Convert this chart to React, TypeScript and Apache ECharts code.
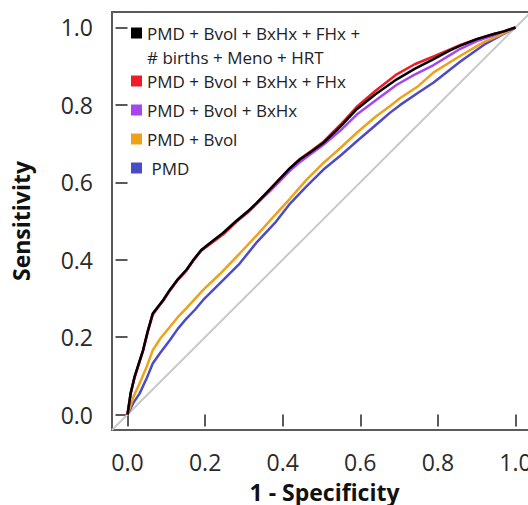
import React, { useEffect, useRef } from "react";
import * as echarts from "echarts";

const NAME_ALL = "PMD + Bvol + BxHx + FHx +\n# births + Meno + HRT";
const NAME_FHX = "PMD + Bvol + BxHx + FHx";
const NAME_BXHX = "PMD + Bvol + BxHx";
const NAME_BVOL = "PMD + Bvol";
const NAME_PMD = " PMD";

const TICKS = [0, 0.2, 0.4, 0.6, 0.8, 1.0];

// full model (black), red & purple share the same FPR grid
const FPR_TOP = [0, 0.008, 0.018, 0.03, 0.04, 0.052, 0.065, 0.078, 0.092, 0.109, 0.13, 0.152, 0.17, 0.19, 0.215, 0.246, 0.28, 0.31, 0.333, 0.37, 0.419, 0.444, 0.475, 0.505, 0.55, 0.591, 0.64, 0.694, 0.74, 0.789, 0.83, 0.858, 0.9, 0.944, 0.97, 1.0];
const TPR_ALL = [0, 0.055, 0.097, 0.135, 0.166, 0.215, 0.261, 0.278, 0.296, 0.322, 0.35, 0.374, 0.4, 0.425, 0.445, 0.469, 0.5, 0.525, 0.547, 0.585, 0.637, 0.659, 0.68, 0.702, 0.745, 0.789, 0.828, 0.866, 0.893, 0.918, 0.94, 0.953, 0.97, 0.983, 0.99, 1.0];
const TPR_FHX = [0, 0.053, 0.095, 0.133, 0.165, 0.213, 0.258, 0.276, 0.294, 0.32, 0.348, 0.372, 0.398, 0.423, 0.442, 0.465, 0.497, 0.523, 0.546, 0.585, 0.636, 0.66, 0.682, 0.705, 0.75, 0.795, 0.837, 0.879, 0.905, 0.925, 0.943, 0.955, 0.97, 0.983, 0.99, 1.0];
const TPR_BXHX = [0, 0.054, 0.096, 0.134, 0.165, 0.214, 0.26, 0.277, 0.295, 0.321, 0.349, 0.373, 0.399, 0.424, 0.443, 0.467, 0.498, 0.522, 0.544, 0.58, 0.63, 0.652, 0.675, 0.697, 0.735, 0.775, 0.812, 0.852, 0.878, 0.903, 0.928, 0.945, 0.965, 0.98, 0.99, 1.0];

const FPR_LOW = [0, 0.015, 0.031, 0.05, 0.065, 0.085, 0.109, 0.13, 0.152, 0.175, 0.195, 0.238, 0.289, 0.333, 0.38, 0.419, 0.46, 0.505, 0.55, 0.591, 0.64, 0.677, 0.703, 0.75, 0.789, 0.858, 0.918, 0.96, 1.0];
const TPR_BVOL = [0, 0.045, 0.08, 0.125, 0.166, 0.197, 0.226, 0.252, 0.275, 0.3, 0.322, 0.363, 0.416, 0.463, 0.515, 0.558, 0.605, 0.65, 0.69, 0.728, 0.77, 0.797, 0.818, 0.849, 0.884, 0.927, 0.962, 0.98, 1.0];
const TPR_PMD = [0, 0.03, 0.054, 0.095, 0.132, 0.16, 0.192, 0.222, 0.248, 0.272, 0.296, 0.339, 0.39, 0.445, 0.495, 0.545, 0.588, 0.633, 0.67, 0.706, 0.748, 0.78, 0.8, 0.832, 0.858, 0.912, 0.955, 0.978, 1.0];

const DIAG_X = [-0.04, 1.04];
const DIAG_Y = [-0.04, 1.04];

const zip = (xs: number[], ys: number[]) => xs.map((x, i) => [x, ys[i]]);

const FONT = "'Open Sans', 'DejaVu Sans', sans-serif";

export default function App() {
  const ref = useRef<HTMLDivElement>(null);
  useEffect(() => {
    if (!ref.current) return;
    const chart = echarts.init(ref.current, null, { renderer: "svg" });
    const lineSeries = (name: string, color: string, data: number[][]) => ({
      type: "line",
      name,
      data,
      color,
      symbol: "none",
      showSymbol: false,
      lineStyle: { color, width: 2.5 },
      itemStyle: { color },
      emphasis: { disabled: true },
    });
    chart.setOption({
      animation: false,
      backgroundColor: "#ffffff",
      grid: {
        left: 112,
        top: 12,
        width: 419,
        height: 418,
        show: true,
        containLabel: false,
        outerBoundsMode: "none",
        borderColor: "#5a5a5a",
        borderWidth: 2,
        backgroundColor: "transparent",
      },
      xAxis: {
        type: "value",
        min: -0.04,
        max: 1.04,
        name: "1 - Specificity",
        nameLocation: "middle",
        nameGap: 50,
        nameTextStyle: { fontFamily: FONT, fontWeight: "bold", fontSize: 23, color: "#111", padding: [0, 0, 0, 6] },
        axisLine: { show: false },
        splitLine: { show: false },
        axisTick: { show: true, length: 12, inside: false, customValues: TICKS, lineStyle: { color: "#5a5a5a", width: 2 } },
        axisLabel: {
          customValues: TICKS,
          margin: 20,
          fontFamily: FONT,
          fontSize: 23,
          color: "#2a2a2a",
          formatter: (v: number) => v.toFixed(1),
        },
      },
      yAxis: {
        type: "value",
        min: -0.04,
        max: 1.04,
        name: "Sensitivity",
        nameLocation: "middle",
        nameGap: 80,
        nameTextStyle: { fontFamily: FONT, fontWeight: "bold", fontSize: 23, color: "#111" },
        axisLine: { show: false },
        splitLine: { show: false },
        axisTick: { show: true, length: 12, inside: false, customValues: TICKS, lineStyle: { color: "#5a5a5a", width: 2 } },
        axisLabel: {
          customValues: TICKS,
          margin: 19,
          fontFamily: FONT,
          fontSize: 23,
          color: "#2a2a2a",
          formatter: (v: number) => v.toFixed(1),
        },
      },
      legend: [
        {
          left: 131,
          top: 21,
          padding: 0,
          orient: "vertical",
          selectedMode: false,
          icon: "path://M0,0H10V10H0Z M0,31.8H10",
          itemWidth: 11,
          itemHeight: 35,
          itemStyle: { borderWidth: 0 },
          textStyle: { fontFamily: FONT, fontSize: 17, lineHeight: 24, color: "#222" },
          data: [NAME_ALL],
        },
        {
          left: 131,
          top: 71,
          padding: 0,
          orient: "vertical",
          selectedMode: false,
          icon: "rect",
          itemWidth: 11,
          itemHeight: 11,
          itemGap: 9,
          itemStyle: { borderWidth: 0 },
          textStyle: { fontFamily: FONT, fontSize: 17, lineHeight: 20, color: "#222" },
          data: [NAME_FHX, NAME_BXHX, NAME_BVOL, NAME_PMD],
        },
      ],
      series: [
        {
          type: "line",
          name: "diag",
          data: zip(DIAG_X, DIAG_Y),
          symbol: "none",
          lineStyle: { color: "#c8c8c8", width: 2 },
          color: "#c8c8c8",
          emphasis: { disabled: true },
          silent: true,
        },
        lineSeries(NAME_PMD, "#4b4bc8", zip(FPR_LOW, TPR_PMD)),
        lineSeries(NAME_BVOL, "#eea21a", zip(FPR_LOW, TPR_BVOL)),
        lineSeries(NAME_BXHX, "#a546f0", zip(FPR_TOP, TPR_BXHX)),
        lineSeries(NAME_FHX, "#ee1c24", zip(FPR_TOP, TPR_FHX)),
        lineSeries(NAME_ALL, "#000000", zip(FPR_TOP, TPR_ALL)),
      ],
    });
    return () => chart.dispose();
  }, []);
  return (
    <div
      ref={ref}
      style={{ position: "fixed", left: 0, top: 0, width: 528, height: 505, background: "#fff" }}
    />
  );
}
